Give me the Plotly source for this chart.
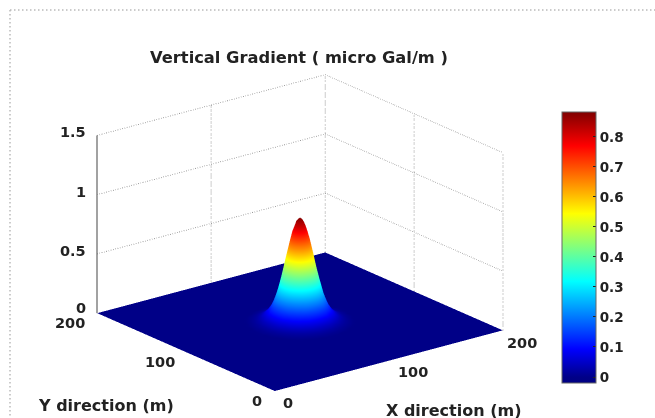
import numpy as np
import plotly.graph_objects as go

TITLE = "Vertical Gradient ( micro Gal/m )"
X_LABEL = "X direction (m)"
Y_LABEL = "Y direction (m)"
x_ticks = [0, 100, 200]
y_ticks = [0, 100, 200]
z_ticks = [0, 0.5, 1, 1.5]
z_tick_text = ["0", "0.5", "1", "1.5"]
cbar_ticks = [0, 0.1, 0.2, 0.3, 0.4, 0.5, 0.6, 0.7, 0.8]
cbar_text = ["0", "0.1", "0.2", "0.3", "0.4", "0.5", "0.6", "0.7", "0.8"]

# distance from the peak centre (m) and estimated heights, one quadrant
peak_centre = 100
offsets = [0, 1.8, 3.7, 5.5, 7.4, 11, 14.7, 18.4, 22, 25.8, 29.4, 33, 36.8, 42, 100]
quadrant = [
    [.880, .864, .818, .750, .669, .475, .299, .167, .092, .048, .025, .011, .004, 0, 0],
    [.864, .850, .803, .737, .658, .465, .296, .165, .092, .048, .025, .011, .004, 0, 0],
    [.818, .803, .766, .705, .625, .440, .282, .158, .088, .047, .024, .011, .004, 0, 0],
    [.750, .737, .705, .645, .575, .410, .262, .148, .083, .045, .024, .011, .004, 0, 0],
    [.669, .658, .625, .575, .510, .370, .233, .136, .079, .042, .020, .010, 0, 0, 0],
    [.475, .465, .440, .410, .370, .264, .167, .101, .060, .032, .017, .008, 0, 0, 0],
    [.299, .296, .282, .262, .233, .167, .114, .075, .044, .024, .012, .005, 0, 0, 0],
    [.167, .165, .158, .148, .136, .101, .075, .047, .028, .016, .008, 0, 0, 0, 0],
    [.092, .092, .088, .083, .079, .060, .044, .028, .018, .010, .004, 0, 0, 0, 0],
    [.048, .048, .047, .045, .042, .032, .024, .016, .010, .005, 0, 0, 0, 0, 0],
    [.025, .025, .024, .024, .020, .017, .012, .008, .004, 0, 0, 0, 0, 0, 0],
    [.011, .011, .011, .011, .010, .008, .005, 0, 0, 0, 0, 0, 0, 0, 0],
    [.004, .004, .004, .004, 0, 0, 0, 0, 0, 0, 0, 0, 0, 0, 0],
    [0, 0, 0, 0, 0, 0, 0, 0, 0, 0, 0, 0, 0, 0, 0],
    [0, 0, 0, 0, 0, 0, 0, 0, 0, 0, 0, 0, 0, 0, 0],
]

q = np.array(quadrant)
top = np.hstack([q[:, :0:-1], q])
z_grid = np.vstack([top[:0:-1], top])
off = np.array(offsets)
axis_vals = np.concatenate([peak_centre - off[:0:-1], peak_centre + off])

JET = [[0, "#000082"], [.022, "#000088"], [.125, "#0000ff"], [.375, "#00ffff"],
       [.625, "#ffff00"], [.875, "#ff0000"], [1, "#800000"]]

INK = "#222222"
FONT = dict(family="DejaVu Sans", size=14.5, color=INK, weight=700)
TITLE_FONT = dict(FONT, size=16.3)
LABEL_FONT = dict(FONT, size=16)

fig = go.Figure()
fig.add_surface(
    x=axis_vals, y=axis_vals, z=z_grid, colorscale=JET, cmin=-0.02, cmax=0.883,
    lighting=dict(ambient=1, diffuse=0, specular=0, fresnel=0, roughness=1),
    hoverinfo="skip",
    colorbar=dict(
        x=562 / 655, xanchor="left", xref="paper", y=1 - 383 / 418, yanchor="bottom", yref="paper",
        len=271 / 418, lenmode="fraction", thickness=34, thicknessmode="pixels", xpad=0, ypad=0,
        tickvals=cbar_ticks, ticktext=cbar_text, ticks="inside", ticklen=3, tickcolor="#222",
        outlinecolor="#666", outlinewidth=1, tickfont=dict(FONT, size=13.5), ticklabelposition="outside",
    ),
)

GRID = dict(color="#9a9a9a", width=2, dash="dot")
zmax = z_ticks[-1]
xmin, xmax = x_ticks[0], x_ticks[-1]
ymin, ymax = y_ticks[0], y_ticks[-1]
for zv in z_ticks[1:]:
    fig.add_scatter3d(x=[xmin, xmax, xmax], y=[ymax, ymax, ymin], z=[zv, zv, zv],
                      mode="lines", line=GRID, hoverinfo="skip", showlegend=False)
for xv in x_ticks[1:]:
    fig.add_scatter3d(x=[xv, xv], y=[ymax, ymax], z=[0, zmax], mode="lines", line=GRID,
                      hoverinfo="skip", showlegend=False)
for yv in y_ticks[:-1]:
    fig.add_scatter3d(x=[xmax, xmax], y=[yv, yv], z=[0, zmax], mode="lines", line=GRID,
                      hoverinfo="skip", showlegend=False)
fig.add_scatter3d(x=[xmin, xmin], y=[ymax, ymax], z=[0, zmax], mode="lines",
                  line=dict(color="#444", width=2), hoverinfo="skip", showlegend=False)

ann = []
for v, t, dy in zip(z_ticks, z_tick_text, [5, 3, 3, 3]):
    ann.append(dict(x=xmin, y=ymax, z=v, text=t, showarrow=False, xanchor="right", xshift=-9, yshift=dy, font=FONT))
for v, dx in zip(y_ticks, [-18, -26, -27]):
    ann.append(dict(x=xmin, y=v, z=0, text=str(v), showarrow=False, xshift=dx, yshift=-10, font=FONT))
for v, dx, dy in zip(x_ticks, [13, 24, 19], [-12, -11, -13]):
    ann.append(dict(x=v, y=ymin, z=0, text=str(v), showarrow=False, xshift=dx, yshift=dy, font=FONT))

axis = dict(showgrid=False, zeroline=False, showline=False, showticklabels=False, ticks="",
            showbackground=False, showspikes=False, title=dict(text=""))

fig.update_layout(
    width=655, height=418, autosize=False, paper_bgcolor="white",
    margin=dict(l=0, r=0, t=0, b=0),
    title=dict(text=TITLE, x=299 / 655, xanchor="center", y=1 - 57 / 418, yanchor="middle", font=TITLE_FONT),
    showlegend=False,
    scene=dict(
        domain=dict(x=[0, 0.916], y=[0, 0.89]),
        xaxis=dict(axis, range=[xmin, xmax]),
        yaxis=dict(axis, range=[ymin, ymax]),
        zaxis=dict(axis, range=[-0.02, zmax]),
        aspectmode="manual", aspectratio=dict(x=1.555, y=1.555, z=1.03),
        camera=dict(projection=dict(type="orthographic"),
                    eye=dict(x=-.74, y=-.95, z=0.45), up=dict(x=0, y=0, z=1),
                    center=dict(x=0, y=0, z=0.012)),
        annotations=ann,
    ),
    annotations=[
        dict(x=106 / 655, y=1 - 405 / 418, xref="paper", yref="paper", text=Y_LABEL, showarrow=False,
             xanchor="center", yanchor="middle", font=LABEL_FONT),
        dict(x=453 / 655, y=1 - 410 / 418, xref="paper", yref="paper", text=X_LABEL, showarrow=False,
             xanchor="center", yanchor="middle", font=LABEL_FONT),
    ],
    shapes=[
        dict(type="line", xref="paper", yref="paper", x0=10 / 655, x1=1, y0=1 - 10 / 418, y1=1 - 10 / 418,
             line=dict(color="#bbb", width=1.5, dash="1.5px,2.5px")),
        dict(type="line", xref="paper", yref="paper", x0=10 / 655, x1=10 / 655, y0=1 - 10 / 418, y1=0,
             line=dict(color="#bbb", width=1.5, dash="1.5px,2.5px")),
    ],
)
fig.write_html("out.html", config=dict(displayModeBar=False),
               post_script="document.body.style.margin='0';document.body.style.overflow='hidden';")
